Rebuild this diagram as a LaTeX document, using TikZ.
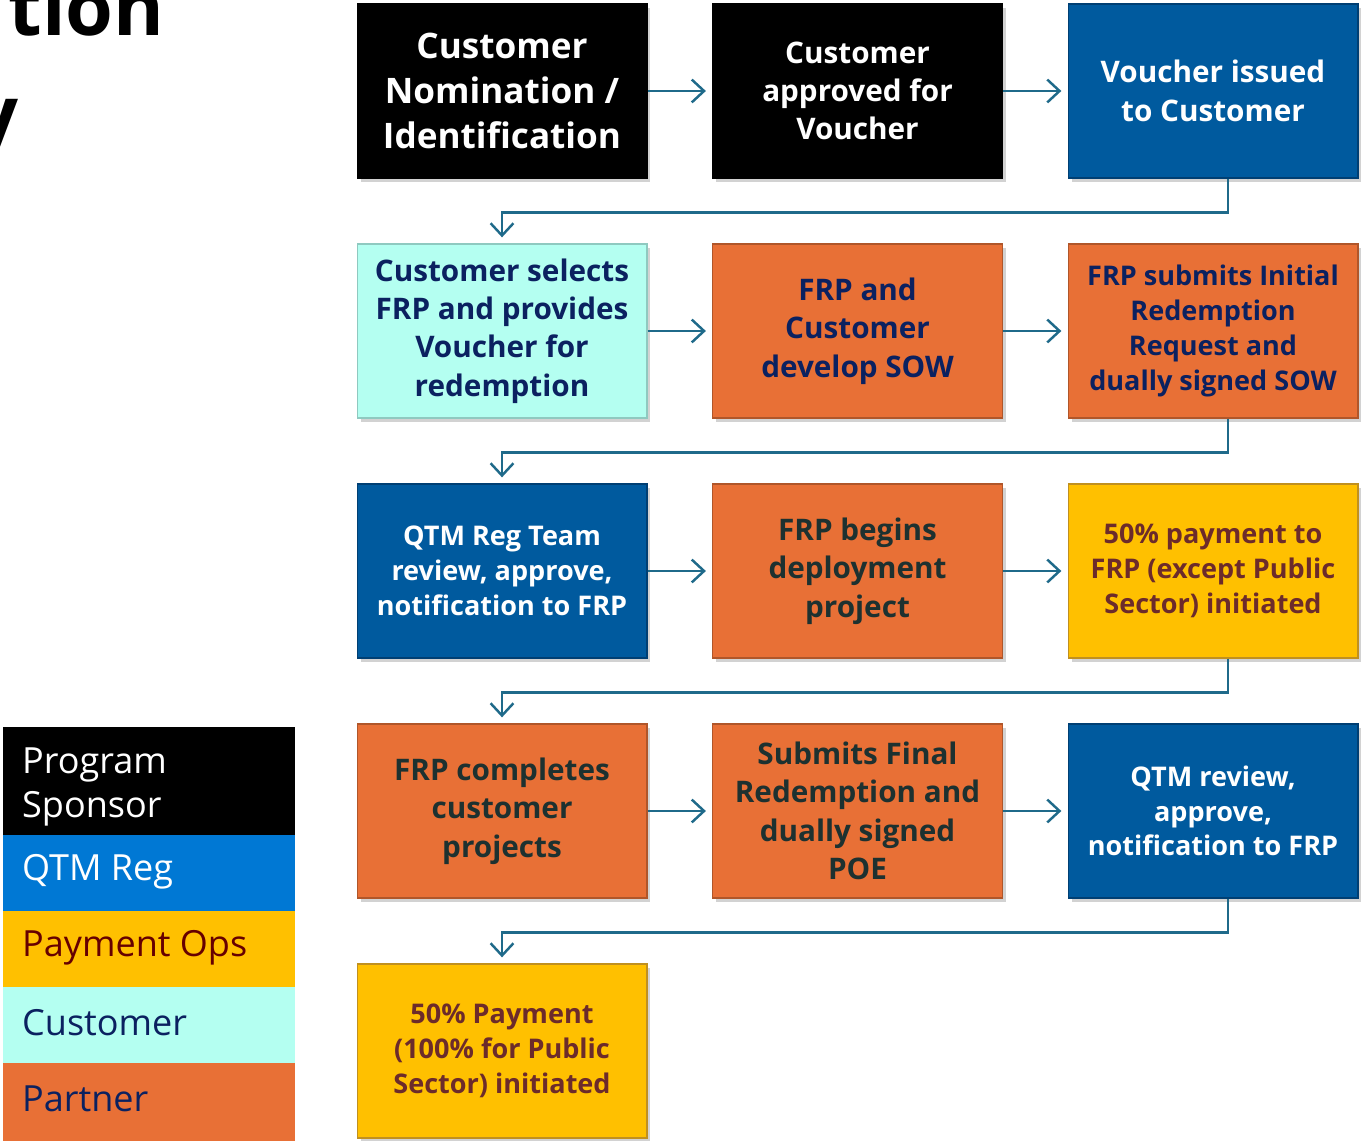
\documentclass[tikz,border=0pt]{standalone}
\usepackage{fontspec}
\setmainfont{Open Sans}
\usetikzlibrary{arrows.meta,shadows,calc}
\definecolor{cBlack}{HTML}{000000}
\definecolor{cBlue}{HTML}{005A9E}
\definecolor{cBlueB}{HTML}{003F73}
\definecolor{cOrange}{HTML}{E87036}
\definecolor{cOrangeB}{HTML}{B0562A}
\definecolor{cCyan}{HTML}{B4FFF1}
\definecolor{cCyanB}{HTML}{8FC9C0}
\definecolor{cYellow}{HTML}{FFC000}
\definecolor{cYellowB}{HTML}{C09020}
\definecolor{cLegBlue}{HTML}{0078D4}
\definecolor{tNavy}{HTML}{0B2160}
\definecolor{tDark}{HTML}{1D3130}
\definecolor{tMaroon}{HTML}{6C2B2B}
\definecolor{tLegMaroon}{HTML}{660000}
\definecolor{cArrow}{HTML}{1F6A8A}
\tikzset{
  box/.style={draw, line width=0.6pt, minimum width=5.8cm, minimum height=3.48cm,
    inner sep=0pt, align=center, font=\bfseries,
    drop shadow={opacity=0.35, shadow xshift=2pt, shadow yshift=-2.5pt}},
  fbig/.style={font=\fontsize{20}{25.5}\selectfont\bfseries},
  fmid/.style={font=\fontsize{16.9}{21.8}\selectfont\bfseries},
  fsml/.style={font=\fontsize{15.4}{19.8}\selectfont\bfseries},
  blackbox/.style={box, fill=cBlack, draw=black, text=white},
  bluebox/.style={box, fill=cBlue, draw=cBlueB, text=white},
  orangebox/.style={box, fill=cOrange, draw=cOrangeB},
  cyanbox/.style={box, fill=cCyan, draw=cCyanB, text=tNavy},
  yellowbox/.style={box, fill=cYellow, draw=cYellowB, text=tMaroon},
  arr/.style={draw=cArrow, line width=1.4pt,
    -{Straight Barb[length=7pt, width=13pt, line width=1.4pt]}, shorten >=3.5pt},
  conn/.style={draw=cArrow, line width=1.4pt, rounded corners=0pt,
    -{Straight Barb[length=7pt, width=13pt, line width=1.4pt]}, shorten >=3.5pt},
  legbox/.style={fill=#1, draw=none},
  legtext/.style={anchor=west, align=left, font=\fontsize{20.5}{25.5}\selectfont},
}
\begin{document}
\begin{tikzpicture}[x=0.02cm, y=-0.02cm]
\useasboundingbox (0,0) rectangle (1361,1141);
\fill[white] (0,0) rectangle (1361,1141);

% partial title
\node[anchor=base east, inner sep=0pt, font=\fontsize{44}{52}\selectfont\bfseries] (t1) at (165,36) {tion};
\node[anchor=base east, inner sep=0pt, font=\fontsize{44}{52}\selectfont\bfseries] (t2) at (19,142) {y};

% row 1
\node[blackbox, fbig] (b1) at (502,91) {Customer\\Nomination /\\Identification};
\node[blackbox, fmid] (b2) at (857.5,91) {Customer\\approved for\\Voucher};
\node[bluebox, fmid] (b3) at (1213,91) {Voucher issued\\to Customer};
% row 2
\node[cyanbox, fmid] (b4) at (502,331) {Customer selects\\FRP and provides\\Voucher for\\redemption};
\node[orangebox, fmid, text=tNavy] (b5) at (857.5,331) {FRP and\\Customer\\develop SOW};
\node[orangebox, fsml, text=tNavy] (b6) at (1213,331) {FRP submits Initial\\Redemption\\Request and\\dually signed SOW};
% row 3
\node[bluebox, fsml] (b7) at (502,571) {QTM Reg Team\\review, approve,\\notification to FRP};
\node[orangebox, fmid, text=tDark] (b8) at (857.5,571) {FRP begins\\deployment\\project};
\node[yellowbox, fsml] (b9) at (1213,571) {50\% payment to\\FRP (except Public\\Sector) initiated};
% row 4
\node[orangebox, fmid, text=tDark] (b10) at (502,811) {FRP completes\\customer\\projects};
\node[orangebox, fmid, text=tDark] (b11) at (857.5,811) {Submits Final\\Redemption and\\dually signed\\POE};
\node[bluebox, fsml] (b12) at (1213,811) {QTM review,\\approve,\\notification to FRP};
% row 5
\node[yellowbox, fsml] (b13) at (502,1051) {50\% Payment\\(100\% for Public\\Sector) initiated};

% horizontal arrows
\draw[arr] (b1.east) -- (b2.west);
\draw[arr] (b2.east) -- (b3.west);
\draw[arr] (b4.east) -- (b5.west);
\draw[arr] (b5.east) -- (b6.west);
\draw[arr] (b7.east) -- (b8.west);
\draw[arr] (b8.east) -- (b9.west);
\draw[arr] (b10.east) -- (b11.west);
\draw[arr] (b11.east) -- (b12.west);

% row connectors
\coordinate (c1) at ($(b3.south)+(15,0)$);
\coordinate (c2) at ($(b6.south)+(15,0)$);
\coordinate (c3) at ($(b9.south)+(15,0)$);
\coordinate (c4) at ($(b12.south)+(15,0)$);
\draw[conn] (c1) -- ++(0,34) -| (b4.north);
\draw[conn] (c2) -- ++(0,34) -| (b7.north);
\draw[conn] (c3) -- ++(0,34) -| (b10.north);
\draw[conn] (c4) -- ++(0,34) -| (b13.north);

% legend
\fill[legbox=black] (3,727) rectangle (295,835);
\fill[legbox=cLegBlue] (3,835) rectangle (295,911);
\fill[legbox=cYellow] (3,911) rectangle (295,987);
\fill[legbox=cCyan] (3,987) rectangle (295,1063);
\fill[legbox=cOrange] (3,1063) rectangle (295,1141);
\node[legtext, text=white] (l1) at (16,787) {Program\\Sponsor};
\node[legtext, text=white] (l2) at (16,872) {QTM Reg};
\node[legtext, text=tLegMaroon] (l3) at (16,948) {Payment Ops};
\node[legtext, text=tNavy] (l4) at (16,1023) {Customer};
\node[legtext, text=tNavy] (l5) at (16,1099) {Partner};
\end{tikzpicture}
\end{document}
